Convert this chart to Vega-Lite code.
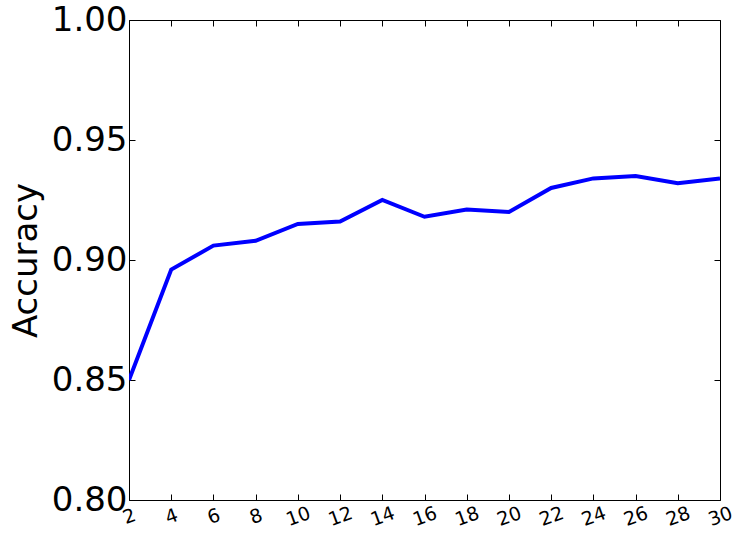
{
  "$schema": "https://vega.github.io/schema/vega-lite/v6.json",
  "autosize": "none",
  "width": 591,
  "height": 480,
  "padding": {"left": 129, "top": 20, "right": 20, "bottom": 36},
  "background": "white",
  "config": {
    "view": {"stroke": "black", "strokeWidth": 1},
    "font": "DejaVu Sans",
    "axis": {"grid": false, "domainColor": "black", "tickColor": "black", "labelColor": "black", "titleColor": "black", "labelFont": "DejaVu Sans", "titleFont": "DejaVu Sans", "titleFontWeight": "normal"}
  },
  "data": {"values": [
    {"k": 2, "acc": 0.850},
    {"k": 4, "acc": 0.896},
    {"k": 6, "acc": 0.906},
    {"k": 8, "acc": 0.908},
    {"k": 10, "acc": 0.915},
    {"k": 12, "acc": 0.916},
    {"k": 14, "acc": 0.925},
    {"k": 16, "acc": 0.918},
    {"k": 18, "acc": 0.921},
    {"k": 20, "acc": 0.920},
    {"k": 22, "acc": 0.930},
    {"k": 24, "acc": 0.934},
    {"k": 26, "acc": 0.935},
    {"k": 28, "acc": 0.932},
    {"k": 30, "acc": 0.934}
  ]},
  "layer": [
    {
      "mark": {"type": "line", "color": "#0000ff", "strokeWidth": 4, "clip": true},
      "encoding": {
        "x": {"field": "k", "type": "quantitative", "scale": {"domain": [2, 30], "nice": false, "zero": false},
          "axis": {"orient": "bottom", "title": null, "values": [2,4,6,8,10,12,14,16,18,20,22,24,26,28,30], "tickSize": -6, "labelFontSize": 19, "labelAngle": -20, "labelPadding": 22, "labelAlign": "center", "labelBaseline": "middle", "domain": false}},
        "y": {"field": "acc", "type": "quantitative", "scale": {"domain": [0.8, 1.0], "nice": false, "zero": false},
          "axis": {"orient": "left", "title": "Accuracy", "titleFontSize": 34, "titlePadding": 8, "values": [0.8, 0.85, 0.9, 0.95, 1.0], "format": ".2f", "tickSize": -6, "labelFontSize": 34, "labelPadding": 8, "domain": false}}
      }
    },
    {
      "mark": {"type": "line", "opacity": 0},
      "encoding": {
        "x": {"field": "k", "type": "quantitative", "axis": {"orient": "top", "title": null, "labels": false, "values": [2,4,6,8,10,12,14,16,18,20,22,24,26,28,30], "tickSize": -6, "domain": false}},
        "y": {"field": "acc", "type": "quantitative", "axis": {"orient": "right", "title": null, "labels": false, "values": [0.8, 0.85, 0.9, 0.95, 1.0], "tickSize": -6, "domain": false}}
      }
    }
  ],
  "resolve": {"axis": {"x": "independent", "y": "independent"}}
}
